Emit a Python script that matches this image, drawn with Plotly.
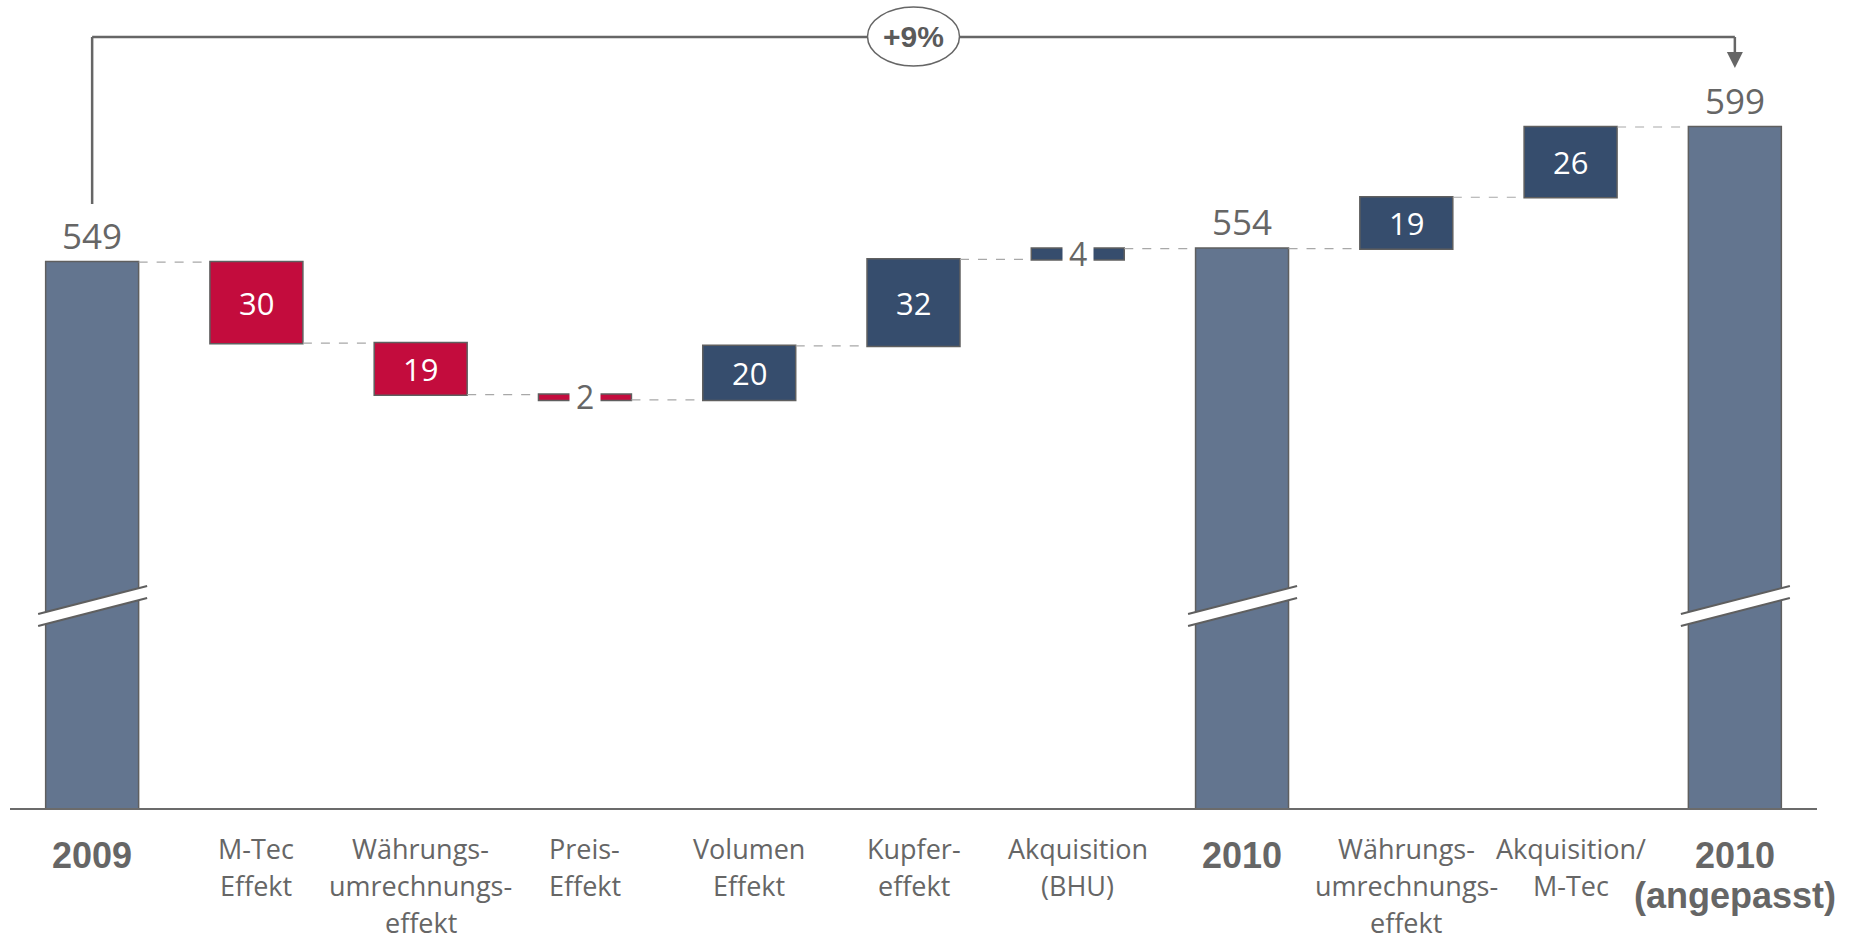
import plotly.graph_objects as go

# ---------------- data ----------------
categories = ["2009", "M-Tec Effekt", "Währungsumrechnungseffekt", "Preis-Effekt",
              "Volumen Effekt", "Kupfereffekt", "Akquisition (BHU)", "2010",
              "Währungsumrechnungseffekt (2010)", "Akquisition/M-Tec", "2010 (angepasst)"]
tick_lines = [["2009"], ["M-Tec", "Effekt"], ["Währungs-", "umrechnungs-", "effekt"],
              ["Preis-", "Effekt"], ["Volumen", "Effekt"], ["Kupfer-", "effekt"],
              ["Akquisition", "(BHU)"], ["2010"], ["Währungs-", "umrechnungs-", "effekt"],
              ["Akquisition/", "M-Tec"], ["2010", "(angepasst)"]]
measures = ["absolute", "relative", "relative", "relative", "relative", "relative",
            "relative", "total", "relative", "relative", "total"]
values = [549, -30, -19, -2, 20, 32, 4, 0, 19, 26, 0]
growth_label = "+9%"

# ---------------- styles ----------------
C_TOTAL = "#63758F"
C_UP = "#364D6D"
C_DOWN = "#C30C3D"
C_EDGE = "#5f5f5f"
C_TEXT = "#666666"
REG_FONT = "Open Sans"
BOLD_FONT = "Liberation Sans, Arial"

W, H = 1859, 940
M_L, M_R, M_T, M_B = 10, 42, 0, 132
PLOT_H = H - M_T - M_B
CAT_W = (W - M_L - M_R) / len(categories)
Y_RANGE = [347, 646]


def py(px):
    """pixel row -> paper y"""
    return 1 - (px - M_T) / PLOT_H


def dx(px):
    """pixel width -> category units"""
    return px / CAT_W


x_idx = list(range(len(categories)))

fig = go.Figure(go.Waterfall(
    x=x_idx,
    y=values,
    measure=measures,
    width=0.566,
    increasing=dict(marker=dict(color=C_UP, line=dict(color=C_EDGE, width=1.5))),
    decreasing=dict(marker=dict(color=C_DOWN, line=dict(color=C_EDGE, width=1.5))),
    totals=dict(marker=dict(color=C_TOTAL, line=dict(color=C_EDGE, width=1.5))),
    connector=dict(mode="between", line=dict(color="#a8a8a8", width=1.2, dash="dash")),
    textinfo="none",
    hoverinfo="skip",
))

annotations = []
shapes = []

# value labels computed from the data
level = 0
for i, (m, v) in enumerate(zip(measures, values)):
    if m == "absolute":
        start, end = 0, v
        level = v
    elif m == "relative":
        start, end = level, level + v
        level = end
    else:
        start, end = 0, level
    if m in ("absolute", "total"):
        annotations.append(dict(x=i, y=end, xref="x", yref="y", text=str(end),
                                showarrow=False, yanchor="middle", yshift=27,
                                font=dict(family=REG_FONT, size=35, color=C_TEXT)))
    elif abs(v) >= 10:
        annotations.append(dict(x=i, y=(start + end) / 2, xref="x", yref="y", text=str(abs(v)),
                                showarrow=False, yanchor="middle",
                                font=dict(family=REG_FONT, size=31, color="white")))
    else:
        annotations.append(dict(x=i, y=(start + end) / 2, xref="x", yref="y", text=str(abs(v)),
                                showarrow=False, yanchor="middle", yshift=1,
                                bgcolor="white", borderpad=6,
                                font=dict(family=REG_FONT, size=32, color=C_TEXT)))

# category labels (one annotation per line to control line spacing)
for i, lines in enumerate(tick_lines):
    bold = measures[i] in ("absolute", "total")
    for j, ln in enumerate(lines):
        if bold:
            annotations.append(dict(x=i, y=py(833 + j * 40), xref="x", yref="paper",
                                    text="<b>%s</b>" % ln, showarrow=False, yanchor="top",
                                    font=dict(family=BOLD_FONT, size=36, color=C_TEXT)))
        else:
            annotations.append(dict(x=i, y=py(829 + j * 37), xref="x", yref="paper",
                                    text=ln, showarrow=False, yanchor="top", borderpad=0,
                                    font=dict(family=REG_FONT, size=27, color=C_TEXT)))

# axis-break marks on total bars
for i, m in enumerate(measures):
    if m in ("absolute", "total"):
        x0, x1 = i - dx(54), i + dx(55)
        shapes.append(dict(type="path", xref="x", yref="paper",
                           path="M %f,%f L %f,%f L %f,%f L %f,%f Z" % (
                               x0, py(614), x1, py(586), x1, py(598), x0, py(626)),
                           fillcolor="white", line=dict(width=0)))
        shapes.append(dict(type="line", xref="x", yref="paper", x0=x0, x1=x1,
                           y0=py(614), y1=py(586), line=dict(color=C_EDGE, width=2)))
        shapes.append(dict(type="line", xref="x", yref="paper", x0=x0, x1=x1,
                           y0=py(626), y1=py(598), line=dict(color=C_EDGE, width=2)))

# growth bracket
first, last = 0, len(categories) - 1
mid = (first + last) / 2
br = dict(color="#666666", width=2.5)
shapes.append(dict(type="line", xref="x", yref="paper", x0=first, x1=first,
                   y0=py(204), y1=py(37), line=br))
shapes.append(dict(type="line", xref="x", yref="paper", x0=first, x1=last,
                   y0=py(37), y1=py(37), line=br))
shapes.append(dict(type="line", xref="x", yref="paper", x0=last, x1=last,
                   y0=py(37), y1=py(54), line=br))
shapes.append(dict(type="path", xref="x", yref="paper",
                   path="M %f,%f L %f,%f L %f,%f Z" % (last - dx(8), py(52), last + dx(8), py(52),
                                                       last, py(68)),
                   fillcolor="#666666", line=dict(width=0)))
shapes.append(dict(type="circle", xref="x", yref="paper",
                   x0=mid - dx(46), x1=mid + dx(46), y0=py(66), y1=py(7),
                   fillcolor="white", line=dict(color="#666666", width=1.5)))
annotations.append(dict(x=mid, y=py(36.5), xref="x", yref="paper", text="<b>%s</b>" % growth_label,
                        showarrow=False, yanchor="middle",
                        font=dict(family=BOLD_FONT, size=30, color="#5a5a5a")))

fig.update_layout(
    width=W, height=H,
    margin=dict(l=M_L, r=M_R, t=M_T, b=M_B),
    paper_bgcolor="white", plot_bgcolor="white",
    showlegend=False,
    xaxis=dict(range=[-0.5, len(categories) - 0.5], showticklabels=False, ticks="",
               showgrid=False, zeroline=False, showline=True, linecolor="#6b6b6b", linewidth=2),
    yaxis=dict(range=Y_RANGE, visible=False, showgrid=False, zeroline=False),
    annotations=annotations,
    shapes=shapes,
)

fig.write_html("out.html")
